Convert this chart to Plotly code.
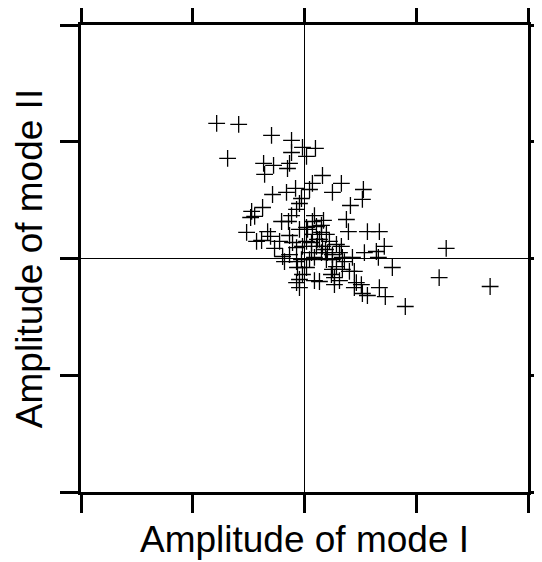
import plotly.graph_objects as go

# Amplitudes (mode I on x, mode II on y)
mode1 = [
    -0.786, -0.589, -0.295, -0.116, -0.688, -0.018, 0.098, 0.018, -0.116, -0.366,
    -0.277, -0.134, -0.152, -0.357, 0.161, 0.071, 0.330, 0.045, 0.250, 0.527,
    0.518, -0.080, -0.161, -0.286, -0.027, 0.411, -0.045, -0.375, -0.473, -0.446,
    -0.482, -0.071, -0.116, 0.089, -0.205, -0.143, 0.375, 0.152, 0.018, 0.393,
    0.563, 0.670, -0.045, -0.518, -0.330, -0.304, -0.429, -0.223, -0.134, -0.107,
    -0.071, -0.268, 0.071, 0.134, 0.196, 0.223, 0.018, -0.018, 0.107, 0.161,
    0.286, 0.330, 0.063, 0.152, 0.205, 0.250, 0.313, -0.027, 0.045, 0.196,
    0.250, 0.339, 0.429, 0.536, 0.643, 0.661, 0.714, -0.196, -0.134, -0.179,
    -0.071, -0.063, 0.018, 0.286, 0.250, 0.339, 0.402, 0.446, 0.241, 0.268,
    0.786, -0.045, -0.071, 0.089, 0.134, 0.268, 0.464, 0.509, 0.446, 0.518,
    0.563, 0.670, 0.723, 0.902, 1.268, 1.205, 1.661, -0.045, 0.152, 0.071,
    0.107, 0.170, 0.116, 0.063, 0.027, 0.188, 0.089, 0.357, -0.018, 0.313,
    -0.384,
]
mode2 = [
    1.157, 1.148, 1.054, 1.011, 0.857, 0.951, 0.943, 0.874, 0.908, 0.814,
    0.797, 0.814, 0.771, 0.720, 0.711, 0.643, 0.643, 0.591, 0.566, 0.591,
    0.506, 0.600, 0.566, 0.548, 0.514, 0.454, 0.471, 0.437, 0.403, 0.360,
    0.351, 0.420, 0.368, 0.368, 0.317, 0.317, 0.334, 0.283, 0.266, 0.231,
    0.231, 0.231, 0.249, 0.223, 0.231, 0.189, 0.146, 0.146, 0.197, 0.137,
    0.094, 0.086, 0.206, 0.163, 0.206, 0.146, 0.146, 0.103, 0.103, 0.103,
    0.120, 0.103, 0.051, 0.051, 0.051, 0.034, 0.051, -0.009, -0.009, -0.009,
    -0.009, 0.009, 0.009, 0.051, 0.060, 0.009, 0.103, 0.017, 0.034, -0.026,
    -0.026, -0.077, -0.077, -0.069, -0.094, -0.094, -0.111, -0.111, -0.137, -0.163,
    -0.077, -0.180, -0.206, -0.189, -0.197, -0.223, -0.206, -0.223, -0.249, -0.300,
    -0.317, -0.249, -0.326, -0.411, 0.086, -0.163, -0.240, -0.249, 0.223, 0.317,
    0.274, 0.326, 0.163, 0.137, 0.249, 0.077, 0.009, -0.026, -0.137, -0.189,
    0.154,
]

tick_vals = [-2, -1, 0, 1, 2]
x_title = "Amplitude of mode I"
y_title = "Amplitude of mode II"

fig = go.Figure(
    go.Scatter(
        x=mode1,
        y=mode2,
        mode="markers",
        marker=dict(symbol="cross-thin", size=12, color="black",
                    line=dict(color="black", width=1.3)),
        showlegend=False,
        hoverinfo="skip",
    )
)

axis_common = dict(
    tickvals=tick_vals,
    showticklabels=False,
    ticks="outside",
    ticklen=18,
    tickwidth=3,
    tickcolor="black",
    showline=True,
    linewidth=2.5,
    linecolor="black",
    mirror="ticks",
    showgrid=False,
    zeroline=True,
    zerolinecolor="black",
    zerolinewidth=1,
    automargin=False,
)

fig.update_layout(
    width=542,
    height=562,
    margin=dict(l=73, r=22, t=17, b=78, autoexpand=False),
    paper_bgcolor="white",
    plot_bgcolor="white",
    font=dict(family="Liberation Sans, Arial, sans-serif", color="black", size=37),
    xaxis=dict(range=[-2, 2], title=dict(text=x_title, standoff=15,
                                          font=dict(size=37)), **axis_common),
    yaxis=dict(range=[-2, 2], title=dict(text=y_title, standoff=7,
                                          font=dict(size=37)), **axis_common),
)

fig.write_html("out.html")
